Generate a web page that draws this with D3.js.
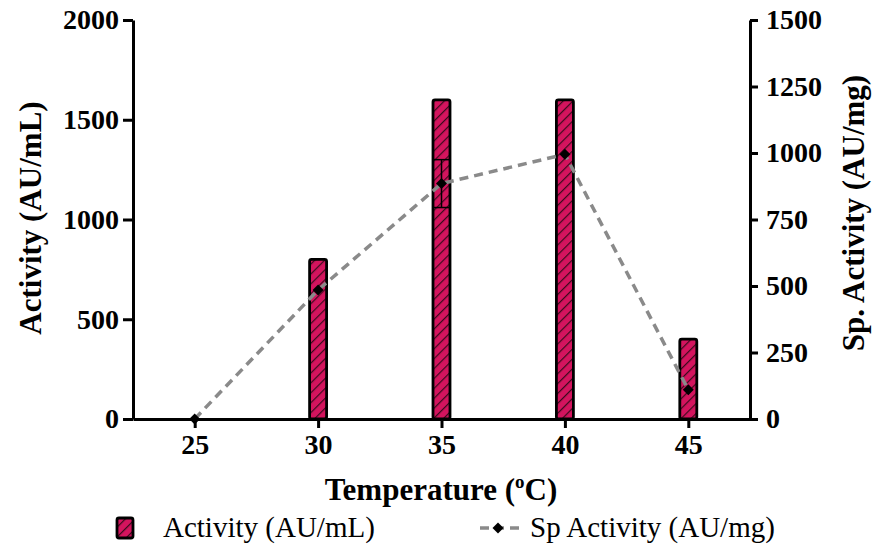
<!DOCTYPE html>
<html><head><meta charset="utf-8">
<script src="https://cdn.jsdelivr.net/npm/d3@7"></script>
<style>body{margin:0;background:#fff}svg{display:block}</style>
</head><body>
<svg id="chart" width="873" height="546"></svg>
<script>
const temperatures = [25, 30, 35, 40, 45];
const activity = [0, 800, 1600, 1600, 400];
const spActivity = [0, 485, 885, 995, 110];
const spError = [0, 0, 90, 0, 0];
const xTicks = [25, 30, 35, 40, 45];
const leftTicks = [0, 500, 1000, 1500, 2000];
const rightTicks = [0, 250, 500, 750, 1000, 1250, 1500];

const svg = d3.select("#chart");
const font = "'Liberation Serif','Times New Roman',serif";
const x = d3.scaleLinear().domain([22.5, 47.5]).range([133, 750]);
const yL = d3.scaleLinear().domain([0, 2000]).range([419, 20]);
const yR = d3.scaleLinear().domain([0, 1500]).range([419, 20]);

const defs = svg.append("defs");
const pat = defs.append("pattern").attr("id","hatch").attr("patternUnits","userSpaceOnUse")
  .attr("width",7).attr("height",7).attr("patternTransform","rotate(45)");
pat.append("rect").attr("width",7).attr("height",7).attr("fill","#d4145e");
pat.append("line").attr("x1",0).attr("y1",0).attr("x2",0).attr("y2",7)
  .attr("stroke","#3a0a1c").attr("stroke-width",2.4);

// bars
const bw = 17;
svg.append("g").selectAll("rect").data(temperatures.map((t,i)=>({t,v:activity[i]})).filter(d=>d.v>0))
  .join("rect")
  .attr("x", d=>x(d.t)-bw/2).attr("y", d=>yL(d.v))
  .attr("width", bw).attr("height", d=>yL(0)-yL(d.v))
  .attr("rx",2)
  .attr("fill","url(#hatch)").attr("stroke","#000").attr("stroke-width",2.8);

// axes
const axStyle = g => {
  g.selectAll("path,line").attr("stroke","#000").attr("stroke-width",3);
  g.selectAll("text").attr("font-family",font).attr("font-weight","bold").attr("font-size",28).attr("fill","#000");
};
svg.append("g").attr("transform","translate(0,419)")
  .call(d3.axisBottom(x).tickValues(xTicks).tickSize(9).tickSizeOuter(0).tickPadding(6).tickFormat(d3.format("d")))
  .call(axStyle);
svg.append("g").attr("transform","translate(133,0)")
  .call(d3.axisLeft(yL).tickValues(leftTicks).tickSize(10).tickSizeOuter(0).tickPadding(4).tickFormat(d3.format("d")))
  .call(axStyle);
svg.append("g").attr("transform","translate(750,0)")
  .call(d3.axisRight(yR).tickValues(rightTicks).tickSize(8).tickSizeOuter(0).tickPadding(8).tickFormat(d3.format("d")))
  .call(axStyle);

// error bars
const errData = temperatures.map((t,i)=>({t,v:spActivity[i],e:spError[i]})).filter(d=>d.e>0);
const eg = svg.append("g").attr("stroke","#000").attr("stroke-width",1.5);
errData.forEach(d=>{
  eg.append("line").attr("x1",x(d.t)).attr("x2",x(d.t)).attr("y1",yR(d.v-d.e)).attr("y2",yR(d.v+d.e));
  eg.append("line").attr("x1",x(d.t)-8).attr("x2",x(d.t)+8).attr("y1",yR(d.v-d.e)).attr("y2",yR(d.v-d.e));
  eg.append("line").attr("x1",x(d.t)-8).attr("x2",x(d.t)+8).attr("y1",yR(d.v+d.e)).attr("y2",yR(d.v+d.e));
});

// line
const line = d3.line().x((d,i)=>x(temperatures[i])).y(d=>yR(d));
svg.append("path").datum(spActivity).attr("d",line).attr("fill","none")
  .attr("stroke","#8a8a8a").attr("stroke-width",3.5).attr("stroke-dasharray","9,6");
const marker = d3.symbol().type(d3.symbolSquare).size(60);
svg.append("g").selectAll("path").data(spActivity).join("path")
  .attr("d",marker).attr("transform",(d,i)=>`translate(${x(temperatures[i])},${yR(d)}) rotate(45)`).attr("fill","#000");

// titles
const xt = svg.append("text").attr("x",441).attr("y",500).attr("text-anchor","middle")
  .attr("font-family",font).attr("font-weight","bold").attr("font-size",31).attr("fill","#000");
xt.append("tspan").text("Temperature (");
xt.append("tspan").text("o").attr("font-size",19).attr("dy",-12);
xt.append("tspan").text("C)").attr("dy",12);

svg.append("text").attr("transform","translate(41,218) rotate(-90)").attr("text-anchor","middle")
  .attr("font-family",font).attr("font-weight","bold").attr("font-size",31).text("Activity (AU/mL)");
svg.append("text").attr("transform","translate(864,213) rotate(-90)").attr("text-anchor","middle")
  .attr("font-family",font).attr("font-weight","bold").attr("font-size",31).text("Sp. Activity (AU/mg)");

// legend
svg.append("rect").attr("x",117).attr("y",518).attr("width",16).attr("height",20).attr("rx",2)
  .attr("fill","url(#hatch)").attr("stroke","#000").attr("stroke-width",2.8);
svg.append("text").attr("x",163).attr("y",537).attr("font-family",font).attr("font-size",29).text("Activity (AU/mL)");
svg.append("line").attr("x1",480).attr("x2",520).attr("y1",528).attr("y2",528)
  .attr("stroke","#8a8a8a").attr("stroke-width",3.5).attr("stroke-dasharray","9,6");
svg.append("path").attr("d",marker).attr("transform","translate(498,528) rotate(45)").attr("fill","#000");
svg.append("text").attr("x",530).attr("y",537).attr("font-family",font).attr("font-size",29).text("Sp Activity (AU/mg)");
</script>
</body></html>
